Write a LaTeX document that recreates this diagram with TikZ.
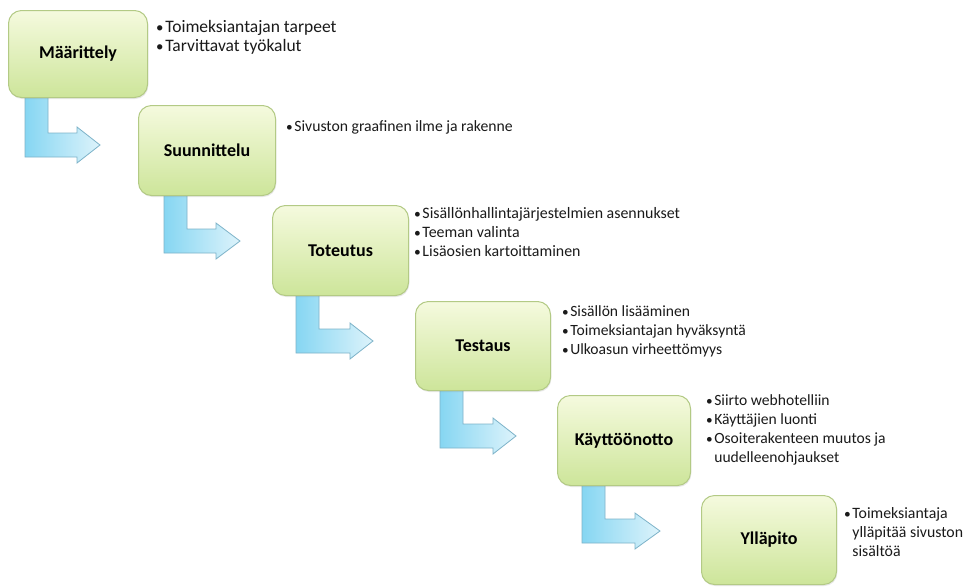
\documentclass[tikz,border=0pt]{standalone}
\usepackage{fontspec}
\setmainfont{Carlito}
\usetikzlibrary{shadows}
\definecolor{boxtop}{HTML}{F5FADE}
\definecolor{boxbot}{HTML}{CDE59A}
\definecolor{boxline}{HTML}{B3CA85}
\definecolor{arrL}{HTML}{86D6F2}
\definecolor{arrR}{HTML}{DDF3FB}
\definecolor{arrline}{HTML}{7DB3C9}
\definecolor{txt}{HTML}{1A1A1A}
\tikzset{
 stage/.style={draw=boxline, line width=1pt, rounded corners=13pt, top color=boxtop, bottom color=boxbot,
   anchor=north west, font=\fontsize{18}{21}\selectfont\bfseries, text=black,
   drop shadow={opacity=0.18, shadow xshift=0.8pt, shadow yshift=-1.5pt}},
 notes/.style={anchor=north west, inner sep=0pt, align=left, font=\fontsize{#1}{19}\selectfont, text=txt},
 notes/.default=15.7,
 bent/.style={draw=arrline, line width=0.8pt, left color=arrL, right color=arrR, line join=miter}
}
\newcommand\bi{\makebox[0.52em][l]{\scalebox{0.85}{\textbullet}}}
\newcommand\bc{\hspace*{0.52em}}
% barleft, top, centre y, head base x, tip x
\newcommand\bentarrow[5]{%
 \draw[bent] (#1,#2) -- ++(23,0) |- (#4,#3-12) -- (#4,#3-18) -- (#5,#3) -- (#4,#3+18) -- (#4,#3+12) -| (#1,#2) -- cycle;
}
\begin{document}
\begin{tikzpicture}[x=1pt,y=-1pt]
\fill[white] (0,0) rectangle (970,587);
\useasboundingbox (0,0) rectangle (970,587);
% arrows (behind boxes)
\bentarrow{25}{93}{145}{77}{100}
\bentarrow{164}{191}{241}{216}{240}
\bentarrow{296}{291}{341}{350}{373}
\bentarrow{440}{386}{436}{493}{516}
\bentarrow{582}{481}{531}{635}{660}
% boxes
\node[stage, minimum width=139pt, minimum height=87pt] (b1) at (8,10) {Määrittely};
\node[stage, minimum width=137pt, minimum height=90pt] (b2) at (138,105) {Suunnittelu};
\node[stage, minimum width=136pt, minimum height=90pt] (b3) at (272,205) {Toteutus};
\node[stage, minimum width=135pt, minimum height=89pt] (b4) at (415,301) {Testaus};
\node[stage, minimum width=133pt, minimum height=90pt] (b5) at (557,395) {Käyttöönotto};
\node[stage, minimum width=135pt, minimum height=89pt] (b6) at (701,495) {Ylläpito};
% notes
\node[notes=17.5] (n1) at (156,19) {\strut\bi Toimeksiantajan tarpeet\\\bi Tarvittavat työkalut};
\node[notes=15.7] (n2) at (286,118) {\strut\bi Sivuston graafinen ilme ja rakenne};
\node[notes=15.9] (n3) at (414,205) {\strut\bi Sisällönhallintajärjestelmien asennukset\\\bi Teeman valinta\\\bi Lisäosien kartoittaminen};
\node[notes=15.6] (n4) at (562,303) {\strut\bi Sisällön lisääminen\\\bi Toimeksiantajan hyväksyntä\\\bi Ulkoasun virheettömyys};
\node[notes=15.6] (n5) at (706,392) {\strut\bi Siirto webhotelliin\\\bi Käyttäjien luonti\\\bi Osoiterakenteen muutos ja\\\bc uudelleenohjaukset};
\node[notes=15.8] (n6) at (844,505) {\strut\bi Toimeksiantaja\\\bc ylläpitää sivuston\\\bc sisältöä};
\end{tikzpicture}
\end{document}
